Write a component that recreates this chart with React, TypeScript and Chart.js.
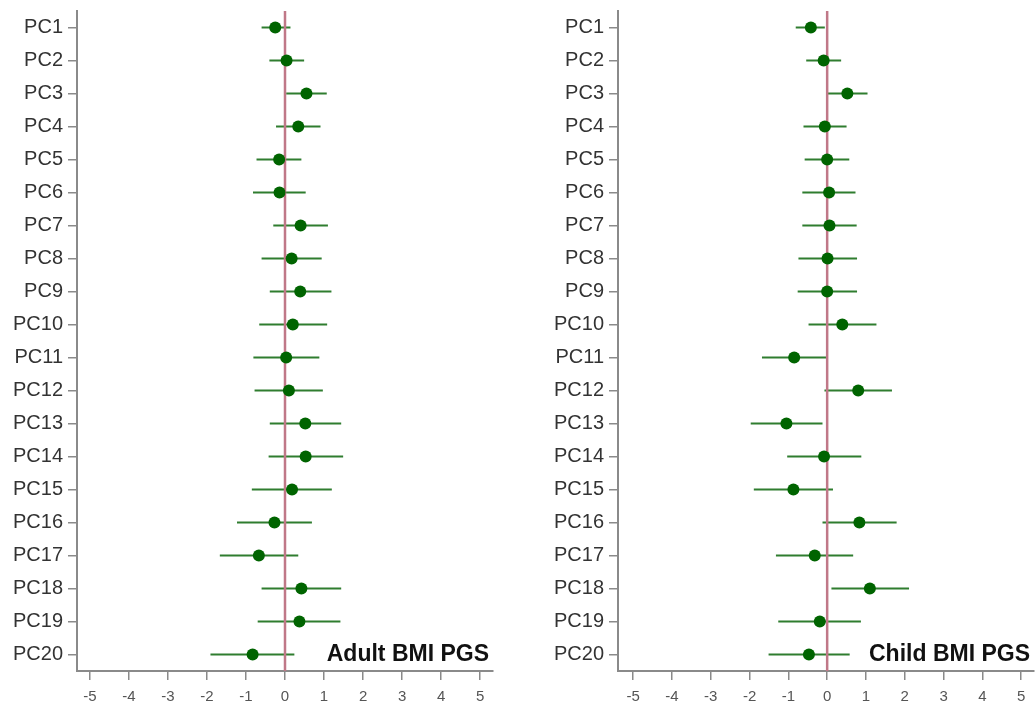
import React, { useEffect, useRef } from "react";
import { Chart, registerables } from "chart.js";

Chart.register(...registerables);

const categories = ["PC1","PC2","PC3","PC4","PC5","PC6","PC7","PC8","PC9","PC10","PC11","PC12","PC13","PC14","PC15","PC16","PC17","PC18","PC19","PC20"];
const xTicks = [-5, -4, -3, -2, -1, 0, 1, 2, 3, 4, 5];

const adultTitle = "Adult BMI PGS";
const adultEst = [-0.25, 0.04, 0.55, 0.34, -0.15, -0.14, 0.40, 0.17, 0.39, 0.20, 0.03, 0.10, 0.52, 0.53, 0.18, -0.27, -0.67, 0.42, 0.37, -0.83];
const adultLo = [-0.60, -0.40, 0.03, -0.23, -0.73, -0.82, -0.30, -0.60, -0.39, -0.66, -0.81, -0.78, -0.39, -0.42, -0.85, -1.23, -1.67, -0.60, -0.70, -1.91];
const adultHi = [0.14, 0.49, 1.07, 0.91, 0.42, 0.53, 1.10, 0.94, 1.19, 1.08, 0.88, 0.97, 1.44, 1.49, 1.20, 0.69, 0.34, 1.44, 1.42, 0.24];

const childTitle = "Child BMI PGS";
const childEst = [-0.42, -0.09, 0.52, -0.06, 0.0, 0.05, 0.06, 0.01, 0.0, 0.39, -0.85, 0.80, -1.05, -0.08, -0.87, 0.83, -0.32, 1.10, -0.19, -0.47];
const childLo = [-0.81, -0.54, 0.01, -0.61, -0.58, -0.64, -0.64, -0.74, -0.76, -0.48, -1.68, -0.07, -1.97, -1.03, -1.89, -0.12, -1.32, 0.11, -1.26, -1.51];
const childHi = [-0.06, 0.36, 1.04, 0.50, 0.57, 0.73, 0.76, 0.77, 0.77, 1.27, -0.02, 1.67, -0.12, 0.88, 0.15, 1.79, 0.67, 2.11, 0.87, 0.58];

const FONT = "'Liberation Sans', Arial, sans-serif";
const AXIS_GRAY = "#8a8a8a";

type PanelProps = {
  title: string;
  est: number[];
  lo: number[];
  hi: number[];
  width: number;
  axisWidth: number;
  padRight: number;
  xMin: number;
  xMax: number;
};

function Panel({ title, est, lo, hi, width, axisWidth, padRight, xMin, xMax }: PanelProps) {
  const ref = useRef<HTMLCanvasElement | null>(null);
  useEffect(() => {
    if (!ref.current) return;
    const bars = categories.map((_, i) => ({
      type: "line" as const,
      data: [
        { x: lo[i], y: i },
        { x: hi[i], y: i },
      ],
      borderColor: "#2f7d2f",
      borderWidth: 2,
      pointRadius: 0,
      showLine: true,
      order: 3,
    }));
    const zeroLine = {
      type: "line" as const,
      data: [
        { x: 0, y: -0.5 },
        { x: 0, y: 19.5 },
      ],
      borderColor: "#c07888",
      borderWidth: 2.5,
      pointRadius: 0,
      showLine: true,
      order: 2,
    };
    const points = {
      type: "scatter" as const,
      data: est.map((v, i) => ({ x: v, y: i })),
      backgroundColor: "#006400",
      borderColor: "#006400",
      pointRadius: 6,
      borderWidth: 0,
      order: 1,
    };
    const titlePlugin = {
      id: "panelTitle",
      afterDatasetsDraw(chart: any) {
        const { ctx, chartArea, scales } = chart;
        ctx.save();
        ctx.font = `bold 23px ${FONT}`;
        ctx.fillStyle = "#111";
        ctx.textAlign = "right";
        ctx.textBaseline = "middle";
        ctx.fillText(title, chartArea.right - 4, scales.y.getPixelForValue(19));
        ctx.restore();
      },
    };
    const chart = new Chart(ref.current, {
      type: "scatter",
      data: { datasets: [...bars, zeroLine, points] as any },
      options: {
        animation: false,
        responsive: false,
        maintainAspectRatio: false,
        layout: { padding: { top: 11, right: padRight, bottom: 0, left: 0 } },
        plugins: { legend: { display: false }, tooltip: { enabled: false } },
        scales: {
          x: {
            type: "linear",
            min: xMin,
            max: xMax,
            afterBuildTicks: (s: any) => {
              s.ticks = xTicks.map((v) => ({ value: v }));
            },
            afterFit: (s: any) => {
              s.height = 33;
              s.paddingLeft = 0;
              s.paddingRight = 0;
            },
            grid: {
              drawOnChartArea: false,
              drawTicks: true,
              tickLength: 9,
              color: AXIS_GRAY,
              lineWidth: 1.5,
            },
            border: { display: true, color: AXIS_GRAY, width: 2 },
            ticks: {
              color: "#555",
              font: { family: FONT, size: 15 },
              padding: 8,
              autoSkip: false,
              maxRotation: 0,
              callback: (v: any) => String(v),
            },
          },
          y: {
            type: "linear",
            reverse: true,
            min: -0.5,
            max: 19.5,
            afterBuildTicks: (s: any) => {
              s.ticks = categories.map((_, i) => ({ value: i }));
            },
            afterFit: (s: any) => {
              s.width = axisWidth;
              s.paddingTop = 0;
              s.paddingBottom = 0;
            },
            grid: {
              drawOnChartArea: false,
              drawTicks: true,
              tickLength: 9,
              color: AXIS_GRAY,
              lineWidth: 1.5,
            },
            border: { display: true, color: AXIS_GRAY, width: 2 },
            ticks: {
              color: "#333",
              font: { family: FONT, size: 20 },
              padding: 5,
              autoSkip: false,
              callback: (v: any) => categories[Number(v)] ?? "",
            },
          },
        },
      },
      plugins: [titlePlugin],
    });
    return () => chart.destroy();
  }, []);
  return (
    <canvas
      ref={ref}
      width={width}
      height={704}
      style={{ width: width + "px", height: "704px", display: "block", flex: "none" }}
    />
  );
}

export default function App() {
  return (
    <div
      style={{
        position: "fixed",
        left: 0,
        top: 0,
        width: "1035px",
        height: "704px",
        background: "#fff",
        display: "flex",
        flexDirection: "row",
        overflow: "hidden",
      }}
    >
      <Panel title={adultTitle} est={adultEst} lo={adultLo} hi={adultHi} width={517} axisWidth={77} padRight={24} xMin={-5.33} xMax={5.33} />
      <Panel title={childTitle} est={childEst} lo={childLo} hi={childHi} width={530} axisWidth={101} padRight={13} xMin={-5.39} xMax={5.33} />
    </div>
  );
}
